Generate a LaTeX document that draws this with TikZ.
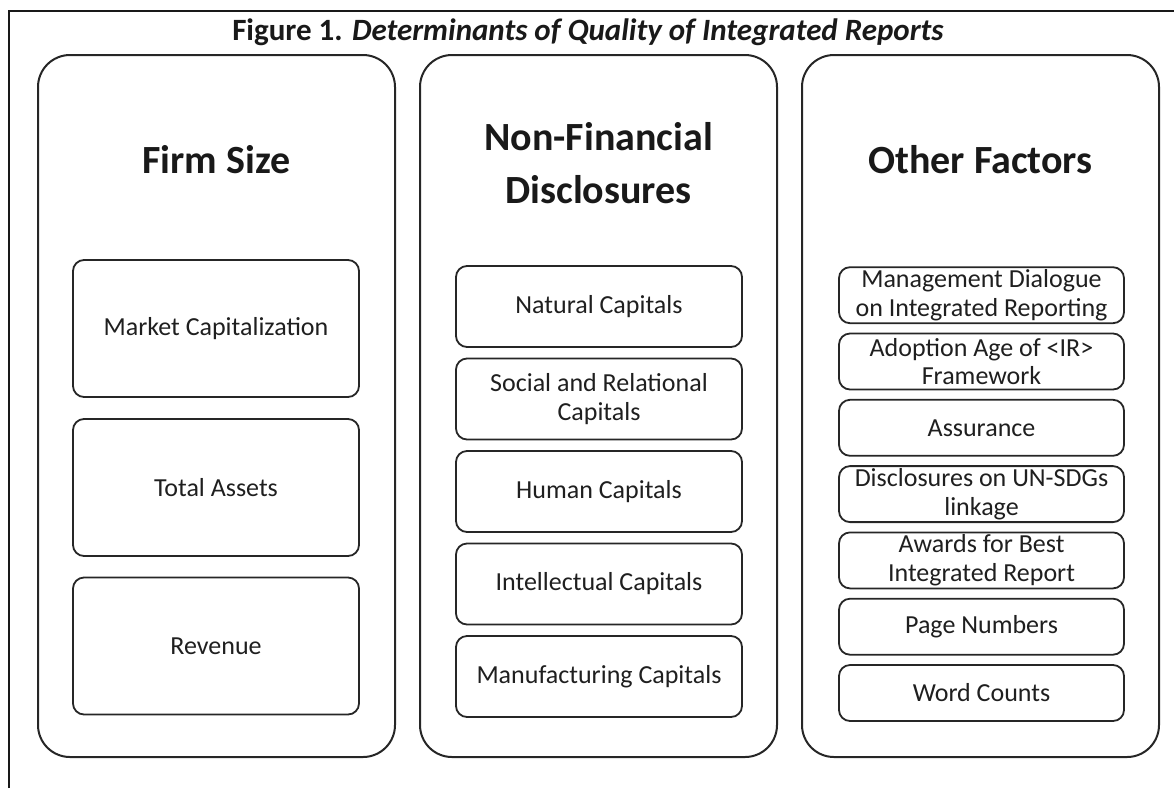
\documentclass[tikz,border=0pt]{standalone}
\usepackage{fontspec}
\setmainfont{Carlito}
\begin{document}
\begin{tikzpicture}[x=1pt,y=-1pt,
  column/.style={draw=black!85, line width=2pt, rounded corners=32pt,
    minimum width=357pt, minimum height=702pt, inner sep=0pt},
  item/.style={draw=black!85, line width=1.8pt, rounded corners=11pt,
    inner sep=0pt, align=center, text=black!88,
    font=\fontsize{26}{28.5}\selectfont},
  itemA/.style={item, minimum width=286pt, minimum height=137pt},
  itemB/.style={item, minimum width=286pt, minimum height=81pt},
  itemC/.style={item, minimum width=285pt, minimum height=56pt},
  head/.style={align=center, text=black!90,
    font=\fontsize{40}{53}\selectfont\bfseries},
  frame/.style={draw=black!90, line width=2pt},
]
\useasboundingbox (0,0) rectangle (1174,788);

% page frame (open at the right and bottom)
\coordinate (fb) at (9,788);
\coordinate (fc) at (9,11);
\coordinate (fr) at (1174,11);
\draw[frame] (fb) -- (fc) -- (fr);

% title
\node[anchor=base, text=black!90, font=\fontsize{31}{36}\selectfont\bfseries]
  (title) at (588,40) {Figure 1. \textit{Determinants of Quality of Integrated Reports}};

% the three columns
\node[column] (c1) at (216.5,406) {};
\node[column] (c2) at (598.5,406) {};
\node[column] (c3) at (980.5,406) {};

\node[head] (h1) at (216.5,160) {Firm Size};
\node[head] (h2) at (598.5,163) {Non-Financial\\Disclosures};
\node[head] (h3) at (980.5,160) {Other Factors};

% firm size
\node[itemA] (a1) at (216,328.5) {Market Capitalization};
\node[itemA] (a2) at (216,487.5) {Total Assets};
\node[itemA] (a3) at (216,646) {Revenue};

% non-financial disclosures
\node[itemB] (b1) at (599,306.5) {Natural Capitals};
\node[itemB] (b2) at (599,399) {Social and Relational\\Capitals};
\node[itemB] (b3) at (599,491.5) {Human Capitals};
\node[itemB] (b4) at (599,584) {Intellectual Capitals};
\node[itemB] (b5) at (599,676.5) {Manufacturing Capitals};

% other factors
\node[itemC] (d1) at (981.5,295.2) {Management Dialogue\\on Integrated Reporting};
\node[itemC] (d2) at (981.5,361.5) {Adoption Age of <IR>\\Framework};
\node[itemC] (d3) at (981.5,427.8) {Assurance};
\node[itemC] (d4) at (981.5,494.1) {Disclosures on UN-SDGs\\linkage};
\node[itemC] (d5) at (981.5,560.4) {Awards for Best\\Integrated Report};
\node[itemC] (d6) at (981.5,626.7) {Page Numbers};
\node[itemC] (d7) at (981.5,693) {Word Counts};
\end{tikzpicture}
\end{document}
